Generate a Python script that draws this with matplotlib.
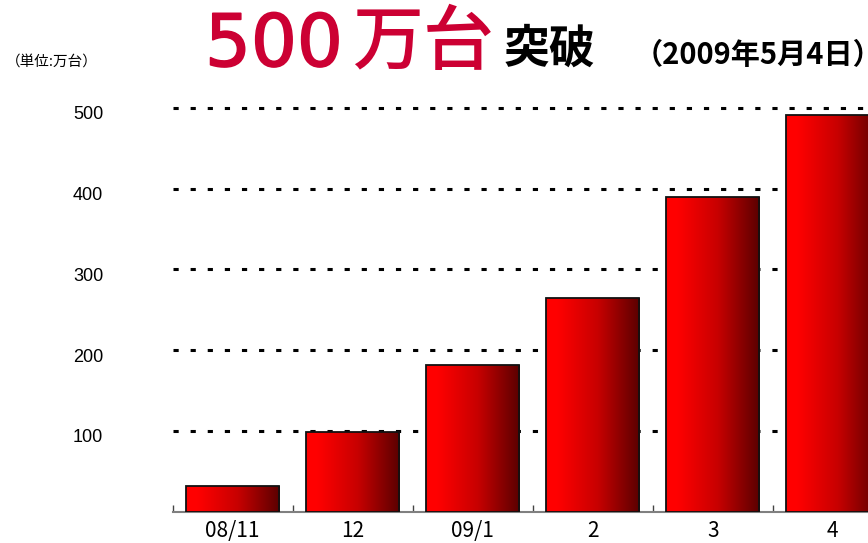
import matplotlib
matplotlib.use('Agg')
import matplotlib.pyplot as plt
import numpy as np
from matplotlib.colors import LinearSegmentedColormap
from matplotlib.transforms import ScaledTranslation
import matplotlib.patheffects as pe

# ---- data ----
categories = ['08/11', '12', '09/1', '2', '3', '4']
values = [32, 99, 182, 264, 389, 491]
ytick_values = [100, 200, 300, 400, 500]
ytick_labels = ['100', '200', '300', '400', '500']

title_num = '500'
title_unit = '万台'
title_word = '突破'
title_date = '（2009年5月4日）'
unit_note = '（単位:万台）'

W, H = 868, 543
fig = plt.figure(figsize=(W / 100, H / 100), dpi=100)

left_px, axis_px, top_px = 172.7, 511.7, 75.4
ax = fig.add_axes([left_px / W, (H - axis_px) / H, 1 - left_px / W, (axis_px - top_px) / H])

cmap = LinearSegmentedColormap.from_list(
    'barred', [(0.0, '#FF0000'), (0.12, '#FF0000'), (0.55, '#C80000'), (1.0, '#5A0000')])
grad = np.linspace(0, 1, 256).reshape(1, -1)

x = np.arange(len(categories))
bars = ax.bar(x, values, width=0.775, facecolor='none', edgecolor='#111111',
              linewidth=1.3, zorder=4)
for b in bars:
    x0, w, h = b.get_x(), b.get_width(), b.get_height()
    im = ax.imshow(grad, extent=[x0, x0 + w, 0, h], aspect='auto', cmap=cmap,
                   interpolation='bilinear', zorder=3)
    im.set_clip_path(b)

# grid / y labels
ax.set_yticks(ytick_values)
ax.set_yticklabels(ytick_labels, fontfamily='Liberation Sans', fontsize=13)
ax.yaxis.grid(True, color='black', linewidth=2.2, linestyle=(0, (1.7, 3.9)))
ax.set_axisbelow(True)
ax.tick_params(axis='y', length=0, pad=50)
for lab in ax.get_yticklabels():
    lab.set_transform(lab.get_transform() + ScaledTranslation(0, -5 / 100, fig.dpi_scale_trans))

# x axis
ax.set_xticks(np.arange(-0.5, len(categories) - 0.5, 1.0))
ax.set_xticklabels([])
ax.set_xticks(x, minor=True)
ax.set_xticklabels(categories, minor=True, fontfamily=['Noto Sans CJK JP', 'DejaVu Sans'],
                   fontsize=15)
ax.tick_params(axis='x', which='major', direction='in', length=5, width=1, color='#444444')
ax.tick_params(axis='x', which='minor', length=0, pad=6)
for s in ['left', 'right', 'top']:
    ax.spines[s].set_visible(False)
ax.spines['bottom'].set_color('#808080')
ax.spines['bottom'].set_linewidth(1.5)
ax.spines['bottom'].set_zorder(2)

ax.set_xlim(-0.5, 5.294)
ax.set_ylim(0, 540)

# titles
def fx(px):
    return px / W

def fy(py):
    return (H - py) / H

fig.text(fx(205), fy(66), title_num, fontfamily=['DejaVu Sans', 'Noto Sans CJK JP'],
         fontsize=52, color='#CC0033', va='baseline', ha='left',
         path_effects=[pe.withStroke(linewidth=1.2, foreground='#CC0033')])
fig.text(fx(352), fy(64), title_unit, fontfamily=['Noto Sans CJK JP', 'DejaVu Sans'],
         fontsize=51, fontweight='medium', color='#CC0033', va='baseline', ha='left')
fig.text(fx(504), fy(63), title_word, fontfamily=['Noto Sans CJK JP', 'DejaVu Sans'],
         fontsize=33, fontweight='bold', color='black', va='baseline', ha='left')
fig.text(fx(634), fy(64), title_date,
         fontfamily=['Liberation Sans Narrow', 'Noto Sans CJK JP', 'DejaVu Sans'],
         fontsize=21, fontweight='bold', color='black', va='baseline', ha='left')
fig.text(fx(6), fy(62), unit_note, fontfamily=['Noto Sans CJK JP', 'DejaVu Sans'],
         fontsize=10.5, color='black', va='center', ha='left')

fig.savefig('out.png', dpi=100)
